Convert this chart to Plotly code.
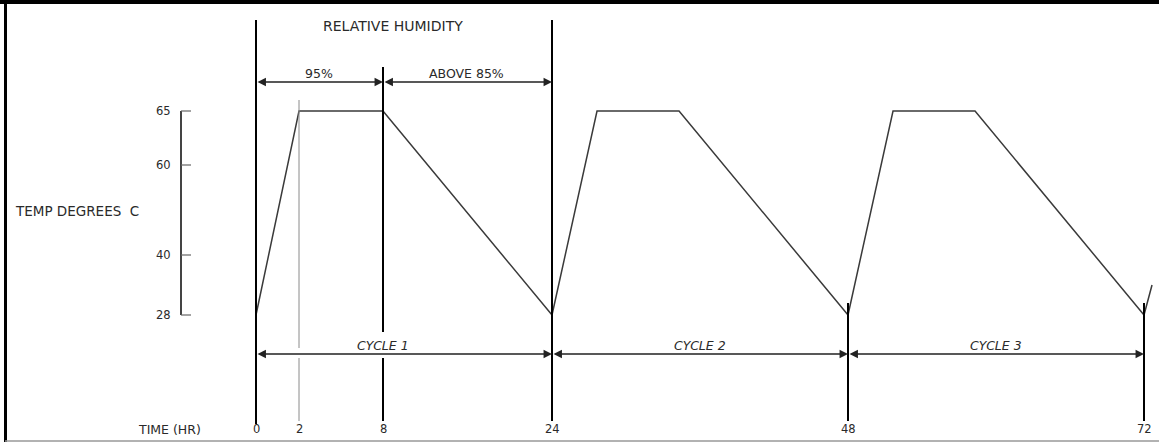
import numpy as np
import plotly.graph_objects as go

# ==========================================
# DATA
# ==========================================

# schematic axis ticks (the drawing is not to scale)
time_ticks = [0, 2, 8, 24, 48, 72]
temp_ticks = [28, 40, 60, 65]

# temperature profile
hours = [0, 2, 8, 24, 27.65, 34.3, 48, 51.65, 58.3, 72, 72.65]
temps = [28, 65, 65, 28, 65, 65, 28, 65, 65, 28, 34]

humidity_labels = ["95%", "ABOVE 85%"]
humidity_spans = [(0, 8), (8, 24)]
cycle_labels = ["CYCLE 1", "CYCLE 2", "CYCLE 3"]
cycle_spans = [(0, 24), (24, 48), (48, 72)]

# ==========================================
# SCHEMATIC SCALES
# ==========================================

time_pos = [256, 299, 383, 552, 848, 1144]
temp_pos = [315, 255, 165, 111]


def sx(h):
    h = np.asarray(h, dtype=float)
    out = np.interp(h, time_ticks, time_pos)
    slope = (time_pos[-1] - time_pos[-2]) / (time_ticks[-1] - time_ticks[-2])
    return np.where(h > time_ticks[-1], time_pos[-1] + (h - time_ticks[-1]) * slope, out)


def sy(t):
    return np.interp(t, temp_ticks, temp_pos)


FONT = dict(family="DejaVu Sans", size=12.5, color="#2a2a2a")
SMALL = dict(family="DejaVu Sans", size=11.5, color="#2a2a2a")

fig = go.Figure()

# ==========================================
# PROFILE
# ==========================================

fig.add_trace(go.Scatter(
    x=sx(hours),
    y=sy(temps),
    mode="lines",
    line=dict(color="#3a3a3a", width=1.5),
    hoverinfo="skip",
    showlegend=False
))

# ==========================================
# VERTICAL MARKERS
# ==========================================

def vline(h, y0, y1, color="black", width=2):
    x = float(sx(h))
    fig.add_shape(type="line", x0=x, x1=x, y0=y0, y1=y1,
                  line=dict(color=color, width=width))

vline(0, 20, 424)
vline(24, 20, 421)
vline(8, 67, 332)
vline(8, 358, 421)
vline(2, 100, 348, color="#8a8a8a", width=1)
vline(2, 358, 421, color="#8a8a8a", width=1)
vline(48, 303, 421)
vline(72, 303, 421)

# ==========================================
# TEMPERATURE AXIS
# ==========================================

fig.add_shape(type="line", x0=181, x1=181, y0=float(sy(65)), y1=float(sy(28)),
              line=dict(color="#444", width=2))
for t in temp_ticks:
    fig.add_shape(type="line", x0=181, x1=191, y0=float(sy(t)), y1=float(sy(t)),
                  line=dict(color="#666", width=1.2))
    fig.add_annotation(x=173, y=float(sy(t)), text=str(t), showarrow=False,
                       xanchor="right", yanchor="middle", font=SMALL)

fig.add_annotation(x=77, y=211, text="TEMP DEGREES  C", showarrow=False,
                   xanchor="center", yanchor="middle", font=dict(FONT, size=13.5))

# ==========================================
# TIME LABELS
# ==========================================

for h in time_ticks:
    fig.add_annotation(x=float(sx(h)), y=429, text=str(h), showarrow=False,
                       xanchor="center", yanchor="middle", font=SMALL)
fig.add_annotation(x=169, y=429, text="TIME (HR)", showarrow=False,
                   xanchor="center", yanchor="middle", font=FONT)

# ==========================================
# ARROWS
# ==========================================

def span_arrow(h0, h1, y):
    fig.add_annotation(x=float(sx(h1)), y=y, ax=float(sx(h0)), ay=y,
                       xref="x", yref="y", axref="x", ayref="y",
                       text="", showarrow=True, arrowside="end+start",
                       arrowhead=2, startarrowhead=2,
                       arrowsize=1.3, startarrowsize=1.3,
                       arrowwidth=1.3, arrowcolor="#222")

for (h0, h1), lab in zip(humidity_spans, humidity_labels):
    span_arrow(h0, h1, 82)
    fig.add_annotation(x=float((sx(h0) + sx(h1)) / 2) - 1, y=73, text=lab,
                       showarrow=False, font=FONT)

for (h0, h1), lab in zip(cycle_spans, cycle_labels):
    span_arrow(h0, h1, 354)
fig.add_annotation(x=float(sx(8)), y=345, text=cycle_labels[0], showarrow=False,
                   font=dict(FONT, style="italic"))
for (h0, h1), lab in list(zip(cycle_spans, cycle_labels))[1:]:
    fig.add_annotation(x=float((sx(h0) + sx(h1)) / 2), y=345, text=lab,
                       showarrow=False, font=dict(FONT, style="italic"))

fig.add_annotation(x=393, y=26, text="RELATIVE HUMIDITY", showarrow=False,
                   font=dict(FONT, size=14))

# ==========================================
# FRAME
# ==========================================

fig.add_shape(type="line", x0=0, x1=1159, y0=2, y1=2,
              line=dict(color="black", width=4))
fig.add_shape(type="line", x0=5.5, x1=5.5, y0=0, y1=442,
              line=dict(color="black", width=3))
fig.add_shape(type="line", x0=5, x1=1159, y0=441, y1=441,
              line=dict(color="#999", width=1.5))

fig.update_layout(
    width=1159,
    height=442,
    autosize=False,
    margin=dict(l=0, r=0, t=0, b=0),
    paper_bgcolor="white",
    plot_bgcolor="white",
    xaxis=dict(range=[0, 1159], visible=False, fixedrange=True),
    yaxis=dict(range=[442, 0], visible=False, fixedrange=True),
    showlegend=False
)

fig.write_html(
    "out.html",
    config={"displayModeBar": False},
    post_script="document.body.style.margin='0';document.body.style.overflow='hidden';"
)
